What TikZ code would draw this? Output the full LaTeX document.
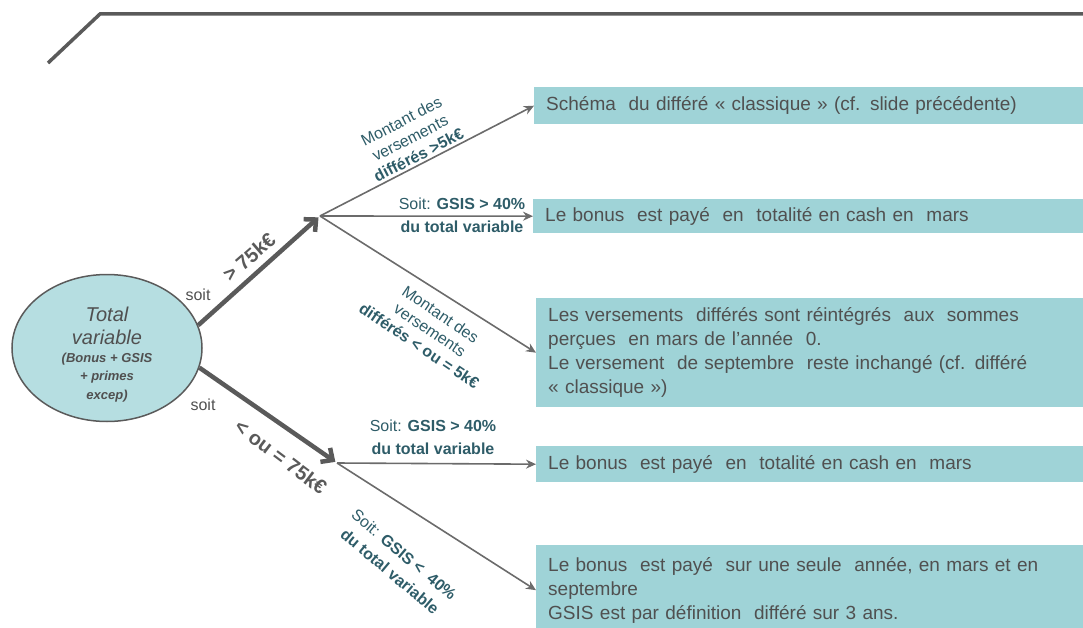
\documentclass[tikz,border=0pt]{standalone}
\usepackage{fontspec}
\setmainfont{Liberation Sans}
\usetikzlibrary{shapes.geometric,arrows.meta}
\definecolor{boxfill}{HTML}{9FD3D7}
\definecolor{ovalfill}{HTML}{B6DEE1}
\definecolor{linegray}{HTML}{5A5A5A}
\definecolor{labelteal}{HTML}{2E5C68}
\definecolor{textgray}{HTML}{505050}

\begin{document}
\begin{tikzpicture}[x=1pt,y=-1pt,
  box/.style={fill=boxfill, anchor=north west, text width=560pt, inner xsep=12pt, inner ysep=0pt, align=left, text=textgray, font=\fontsize{19}{24}\selectfont},
  bigarrow/.style={line width=4.5pt, linegray, -{Straight Barb[length=9pt,width=17pt]}, shorten >=2pt},
  thinarrow/.style={line width=1.6pt, linegray!90, -{Stealth[length=10pt,width=9pt]}},
  lbl/.style={text=labelteal, align=center, font=\fontsize{16}{19}\selectfont},
  soitlbl/.style={text=labelteal, align=center, font=\fontsize{16}{23}\selectfont},
  seuil/.style={text=linegray, font=\bfseries\fontsize{20}{24}\selectfont}]
\useasboundingbox (0,0) rectangle (1083,628);

% Frame
\draw[line width=3.5pt, linegray] (48,63) -- (100,14) -- (1083,14);

% Root
\node[ellipse, draw=linegray, line width=1.5pt, fill=ovalfill, minimum width=190pt, minimum height=147pt] (total) at (107,348) {};
\node[text=textgray, align=center, font=\itshape\fontsize{20}{24}\selectfont] (totaltext) at (107,355)
  {Total\\[-1pt] variable\\[-6pt] \bfseries\itshape\fontsize{13}{15}\selectfont (Bonus + GSIS\\[-6pt] \bfseries\itshape\fontsize{13}{15}\selectfont + primes\\[-5pt] \bfseries\itshape\fontsize{13}{15}\selectfont excep)};

\coordinate (hi) at (320,216);
\coordinate (lo) at (337,463);

\draw[bigarrow] (total.14) -- (hi);
\draw[bigarrow] (total.-12) -- (lo);
\node[seuil, rotate=41] (plus) at (249,257) {> 75k€};
\node[seuil, rotate=-37] (moins) at (281,457) {< ou = 75k€};
\node[text=textgray, font=\fontsize{16}{18}\selectfont] (soit1) at (198,295) {soit};
\node[text=textgray, font=\fontsize{16}{18}\selectfont] (soit2) at (203,405) {soit};

% Boxes
\node[box, minimum height=37pt] (b1) at (534,87) {Schéma~ du différé «~classique~» (cf. slide précédente)};
\node[box, minimum height=34pt] (b2) at (533,199) {Le bonus~ est payé~ en~ totalité en cash en~ mars};
\node[box, minimum height=109pt] (b3) at (536,298) {Les versements~ différés sont réintégrés~ aux~ sommes\\ perçues~ en mars de l'année~ 0.\\ Le versement~ de septembre~ reste inchangé (cf. différé\\ «~classique~»)};
\node[box, minimum height=36pt] (b4) at (536,446) {Le bonus~ est payé~ en~ totalité en cash en~ mars};
\node[box, minimum height=90pt] (b5) at (536,545) {Le bonus~ est payé~ sur une seule~ année, en mars et en\\ septembre\\ GSIS est par définition~ différé sur 3 ans.};

% Branches
\draw[thinarrow] (hi) -- (b1.west);
\draw[thinarrow] (hi) -- (b2.west);
\draw[thinarrow] (hi) -- (b3.west);
\draw[thinarrow] (lo) -- (b4.west);
\draw[thinarrow] (lo) -- (b5.west);

\node[lbl, rotate=27] (m1) at (410,138) {Montant des\\ versements\\ \textbf{différés >5k€}};
\node[lbl, rotate=-34] (m2) at (430,330) {Montant des\\ versements\\ \textbf{différés < ou = 5k€}};
\node[soitlbl] (s1) at (462,215) {Soit: \textbf{GSIS > 40\%}\\ \textbf{du total variable}};
\node[soitlbl] (s2) at (433,437) {Soit: \textbf{GSIS > 40\%}\\ \textbf{du total variable}};
\node[soitlbl, rotate=-40, font=\fontsize{16}{22}\selectfont] (s3) at (397,563) {Soit: \textbf{GSIS <~ 40\%}\\ \textbf{du total variable}};

\end{tikzpicture}
\end{document}
